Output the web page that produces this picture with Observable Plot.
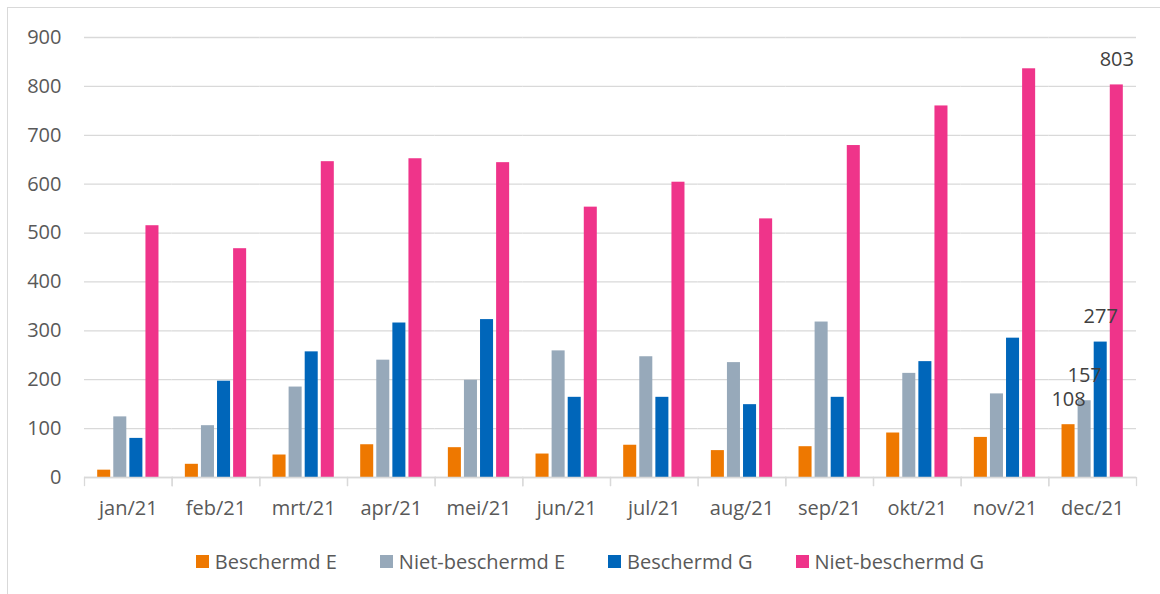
<!DOCTYPE html>
<html>
<head>
<meta charset="utf-8">
<script src="https://cdn.jsdelivr.net/npm/d3@7"></script>
<script src="https://cdn.jsdelivr.net/npm/@observablehq/plot@0.6"></script>
<style>
  html, body { margin: 0; padding: 0; background: #fff; }
  body { width: 1160px; height: 594px; position: relative; overflow: hidden; font-family: "Open Sans", sans-serif; }
  #frame { position: absolute; left: 7px; top: 7px; width: 1180px; height: 620px; border: 1.3px solid #d9d9d9; box-sizing: border-box; }
  #chart { position: absolute; left: 0; top: 0; }
  #legend { position: absolute; left: 0; width: 1180px; top: 548px; display: flex; justify-content: center; gap: 43px; font-size: 20px; color: #595959; }
  #legend .item { display: flex; align-items: center; gap: 6px; }
  #legend .sw { width: 13px; height: 13px; display: inline-block; }
</style>
</head>
<body>
<div id="frame"></div>
<div id="chart"></div>
<div id="legend"></div>
<script>
const months = ["jan/21","feb/21","mrt/21","apr/21","mei/21","jun/21","jul/21","aug/21","sep/21","okt/21","nov/21","dec/21"];
const seriesNames = ["Beschermd E","Niet-beschermd E","Beschermd G","Niet-beschermd G"];
const beschermdE     = [15, 27, 46, 67, 61, 48, 66, 55, 63, 91, 82, 108];
const nietBeschermdE = [124, 106, 185, 240, 199, 259, 247, 235, 318, 213, 171, 157];
const beschermdG     = [80, 197, 257, 316, 323, 164, 164, 149, 164, 237, 285, 277];
const nietBeschermdG = [515, 468, 646, 652, 644, 553, 604, 529, 679, 760, 836, 803];
const colors = ["#EE7800", "#97A9BA", "#0066BA", "#EF348A"];
const yTicks = [0,100,200,300,400,500,600,700,800,900];
const labelledMonth = "dec/21";
const labelledSeries = ["Beschermd E","Niet-beschermd E","Beschermd G","Niet-beschermd G"];

const allSeries = [beschermdE, nietBeschermdE, beschermdG, nietBeschermdG];
const rows = [];
months.forEach((m, i) => {
  seriesNames.forEach((s, j) => rows.push({month: m, series: s, value: allSeries[j][i]}));
});
const labelRows = rows.filter(d => d.month === labelledMonth && labelledSeries.includes(d.series));

const plot = Plot.plot({
  width: 1160,
  height: 525,
  marginTop: 37,
  marginBottom: 48,
  marginLeft: 84,
  marginRight: 24,
  style: {fontFamily: "'Open Sans', sans-serif", fontSize: "20px", color: "#595959", background: "transparent"},
  fx: {domain: months, padding: 0, round: false, label: null},
  x: {domain: seriesNames, paddingInner: 0.19, paddingOuter: 0.82, round: false, axis: null},
  y: {domain: [0, 900], label: null},
  color: {domain: seriesNames, range: colors},
  marks: [
    Plot.gridY(yTicks, {stroke: "#d9d9d9", strokeOpacity: 1, strokeWidth: 1.3}),
    Plot.axisY(yTicks, {tickSize: 0, tickPadding: 23, fontSize: 20, fill: "#595959", label: null}),
    Plot.axisFx({anchor: "bottom", tickSize: 0, tickPadding: 23, fontSize: 20, fill: "#595959", label: null}),
    Plot.barY(rows, {fx: "month", x: "series", y: "value", fill: "series"}),
    Plot.ruleY([0], {stroke: "#d9d9d9", strokeWidth: 1.3}),
    Plot.frame({anchor: "left", stroke: "#d9d9d9", strokeWidth: 1.3, insetTop: 440, insetBottom: -8}),
    Plot.frame({anchor: "right", stroke: "#d9d9d9", strokeWidth: 1.3, insetTop: 440, insetBottom: -8}),
    Plot.text(labelRows, {fx: "month", x: "series", y: "value", text: d => String(d.value), dy: -25, fill: "#404040", fontSize: 20, textAnchor: "middle", lineAnchor: "middle"})
  ]
});
document.getElementById("chart").appendChild(plot);

const legend = document.getElementById("legend");
seriesNames.forEach((s, i) => {
  const item = document.createElement("div");
  item.className = "item";
  const sw = document.createElement("span");
  sw.className = "sw";
  sw.style.background = colors[i];
  const t = document.createElement("span");
  t.textContent = s;
  item.appendChild(sw);
  item.appendChild(t);
  legend.appendChild(item);
});
</script>
</body>
</html>
